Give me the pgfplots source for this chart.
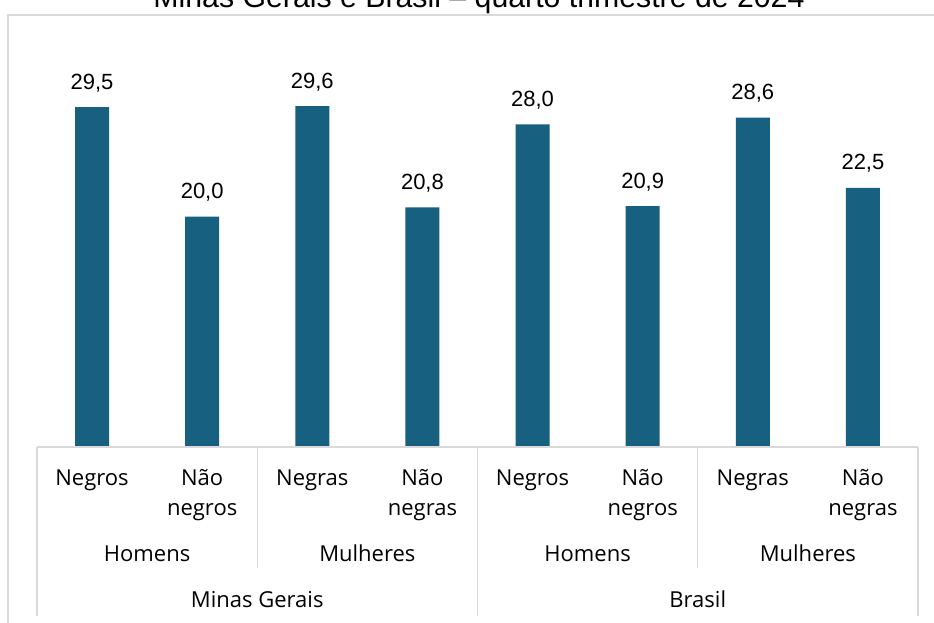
\documentclass[border=0pt]{standalone}
\usepackage{pgfplots}
\pgfplotsset{compat=1.18}
\usepackage{fontspec}
\setmainfont{Liberation Sans}
\newfontfamily\catfont{Open Sans}
\definecolor{barblue}{RGB}{23,96,128}
\definecolor{gridgray}{RGB}{217,217,217}
\begin{document}
\begin{tikzpicture}[x=0.75pt,y=-0.75pt]
\path[use as bounding box] (0,0) rectangle (934,622);
\clip (0,0) rectangle (934,622);
\draw[gridgray,line width=1.1pt] (8,15) rectangle (960,660);
\node[anchor=base,inner sep=0pt,font=\fontsize{22.7pt}{26pt}\selectfont] at (479,7.5) {Minas Gerais e Brasil – quarto trimestre de 2024};
\begin{axis}[
  at={(27.75pt,-335.25pt)}, anchor=south west,
  scale only axis, width=660.75pt, height=305.25pt,
  xmin=-0.5, xmax=7.5, ymin=0, ymax=35.33,
  hide axis, clip=false,
  ybar, bar width=25.5pt,
  nodes near coords,
  /pgf/number format/.cd, fixed, fixed zerofill, precision=1, use comma, assume math mode=true,
  /pgfplots/.cd,
  every node near coord/.append style={anchor=base, yshift=13.5pt, inner sep=0pt, font=\fontsize{16.5pt}{19pt}\selectfont, text=black},
]
\addplot[draw=none, fill=barblue] coordinates {
 (0,29.5) (1,20.0) (2,29.6) (3,20.8) (4,28.0) (5,20.9) (6,28.6) (7,22.5)};
% separators
\draw[gridgray,line width=1.1pt] (axis cs:-0.5,0) -- (axis cs:7.5,0);
\draw[gridgray,line width=1.1pt] (axis cs:-0.5,0) -- ([yshift=-126.75pt]axis cs:-0.5,0);
\draw[gridgray,line width=1.1pt] (axis cs:3.5,0) -- ([yshift=-126.75pt]axis cs:3.5,0);
\draw[gridgray,line width=1.1pt] (axis cs:7.5,0) -- ([yshift=-126.75pt]axis cs:7.5,0);
\draw[gridgray,line width=1.1pt] (axis cs:1.5,0) -- ([yshift=-90.75pt]axis cs:1.5,0);
\draw[gridgray,line width=1.1pt] (axis cs:5.5,0) -- ([yshift=-90.75pt]axis cs:5.5,0);
% level 1 labels
\begin{scope}[every node/.style={anchor=base,inner sep=0pt,font=\catfont\fontsize{16.5pt}{19pt}\selectfont}]
\node at ([yshift=-28.5pt]axis cs:0,0) {Negros};
\node at ([yshift=-28.5pt]axis cs:1,0) {Não};
\node at ([yshift=-51pt]axis cs:1,0) {negros};
\node at ([yshift=-28.5pt]axis cs:2,0) {Negras};
\node at ([yshift=-28.5pt]axis cs:3,0) {Não};
\node at ([yshift=-51pt]axis cs:3,0) {negras};
\node at ([yshift=-28.5pt]axis cs:4,0) {Negros};
\node at ([yshift=-28.5pt]axis cs:5,0) {Não};
\node at ([yshift=-51pt]axis cs:5,0) {negros};
\node at ([yshift=-28.5pt]axis cs:6,0) {Negras};
\node at ([yshift=-28.5pt]axis cs:7,0) {Não};
\node at ([yshift=-51pt]axis cs:7,0) {negras};
\node at ([yshift=-85.5pt]axis cs:0.5,0) {Homens};
\node at ([yshift=-85.5pt]axis cs:2.5,0) {Mulheres};
\node at ([yshift=-85.5pt]axis cs:4.5,0) {Homens};
\node at ([yshift=-85.5pt]axis cs:6.5,0) {Mulheres};
\node at ([yshift=-120pt]axis cs:1.5,0) {Minas Gerais};
\node at ([yshift=-120pt]axis cs:5.5,0) {Brasil};
\end{scope}
\end{axis}
\end{tikzpicture}
\end{document}
